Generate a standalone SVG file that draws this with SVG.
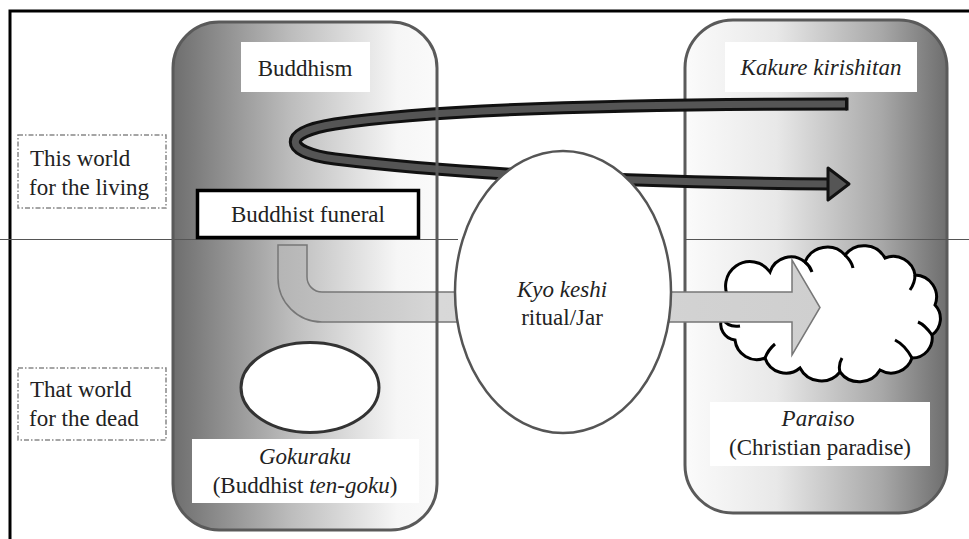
<svg xmlns="http://www.w3.org/2000/svg" width="969" height="539" viewBox="0 0 969 539">
<defs>
<linearGradient id="gL" x1="0" y1="0" x2="1" y2="0">
<stop offset="0" stop-color="#6e6e6e"/><stop offset="0.45" stop-color="#bdbdbd"/><stop offset="0.85" stop-color="#f6f6f6"/><stop offset="1" stop-color="#fafafa"/>
</linearGradient>
<linearGradient id="gR" x1="0" y1="0" x2="1" y2="0">
<stop offset="0" stop-color="#fbfbfb"/><stop offset="0.35" stop-color="#e8e8e8"/><stop offset="0.75" stop-color="#a8a8a8"/><stop offset="1" stop-color="#6e6e6e"/>
</linearGradient>
<linearGradient id="gA" x1="0" y1="0" x2="1" y2="0">
<stop offset="0" stop-color="#b5b5b5"/><stop offset="0.3" stop-color="#d8d8d8"/><stop offset="1" stop-color="#cfcfcf"/>
</linearGradient>
</defs>
<style>
.t{font-family:'Liberation Serif','Tinos','Noto Serif','FreeSerif','DejaVu Serif','Times New Roman',serif;font-size:23px;fill:#222}
.it{font-style:italic}
.lbl{fill:#fff;stroke:none}
.dash{fill:none;stroke:#888;stroke-width:1.5;stroke-dasharray:5 2 1.5 2}
.panel{stroke:#5a5a5a;stroke-width:3}
</style>
<rect width="969" height="539" fill="#fff"/>
<path d="M10 539 V11 H969" fill="none" stroke="#000" stroke-width="3"/>

<g id="left-panel">
<rect x="173" y="22" width="264" height="508" rx="46" fill="url(#gL)"/>
</g>
<g id="right-panel">
<rect x="685" y="20" width="262" height="493" rx="48" fill="url(#gR)" class="panel"/>
</g>

<g id="divider">
<line x1="0" y1="239.500" x2="458" y2="239.500" stroke="#555" stroke-width="1.2"/>
<line x1="685" y1="239.500" x2="969" y2="239.500" stroke="#555" stroke-width="1.2"/>
</g>

<g id="this-world" class="t">
<rect x="18" y="135" width="148" height="73" class="dash"/>
<text x="30" y="166">This world</text>
<text x="29" y="195">for the living</text>
</g>
<g id="that-world" class="t">
<rect x="18" y="368" width="148" height="72" class="dash"/>
<text x="30" y="397">That world</text>
<text x="29" y="426">for the dead</text>
</g>

<g id="cloud">
<path d="M730 300 A22 22 0 0 1 770 272 A22 22 0 0 1 805 262 A24 24 0 0 1 845 255 A24 24 0 0 1 885 258 A22 22 0 0 1 915 275 A22 22 0 0 1 935 305 A20 20 0 0 1 932 335 A20 20 0 0 1 912 358 A22 22 0 0 1 880 370 A24 24 0 0 1 840 372 A24 24 0 0 1 800 368 A22 22 0 0 1 765 358 A22 22 0 0 1 735 340 A16 16 0 0 1 722 318 A14 14 0 0 1 730 300 Z" fill="#fff" stroke="#000" stroke-width="3"/>
<path d="M722 318 Q728 328 740 326 M765 358 Q768 350 775 344 M840 372 Q838 365 842 358 M912 358 Q905 345 895 340 M932 335 Q925 325 918 322 M915 275 Q915 283 910 290 M845 255 Q852 262 853 268 M805 262 Q810 266 812 272" fill="none" stroke="#000" stroke-width="3"/>
</g>

<g id="connectors">
<path d="M278 245 V278 A44 44 0 0 0 322 322 H792 V355 L820 307.500 L792 260 V292 H322 A15 15 0 0 1 307 277 V245 Z" fill="url(#gA)" stroke="#777" stroke-width="1.5"/>
<path d="M847 104 C650 104 440 108 335 124 C282 132 282 152 335 159 C450 173 600 182 830 184" fill="none" stroke="#111" stroke-width="13"/>
<path d="M845 104 C650 104 440 108 335 124 C282 132 282 152 335 159 C450 173 600 182 832 184" fill="none" stroke="#555" stroke-width="7"/>
<path d="M828 168 L849 184 L828 200 Z" fill="#555" stroke="#111" stroke-width="3" stroke-linejoin="round"/>
<line x1="847" y1="97.500" x2="847" y2="110.500" stroke="#111" stroke-width="3"/>
</g>

<g id="left-panel-outline">
<rect x="173" y="22" width="264" height="508" rx="46" fill="none" class="panel"/>
</g>

<g id="buddhism" class="t">
<rect x="241" y="42" width="129" height="50" class="lbl"/>
<text x="305" y="76" text-anchor="middle">Buddhism</text>
</g>
<g id="funeral" class="t">
<rect x="197.500" y="190.500" width="221" height="47" fill="#fff" stroke="#000" stroke-width="3.500"/>
<text x="308" y="222" text-anchor="middle">Buddhist funeral</text>
</g>
<g id="gokuraku" class="t">
<ellipse cx="310" cy="387.500" rx="69" ry="45" fill="#fff" stroke="#333" stroke-width="3"/>
<rect x="192" y="439" width="227" height="64" class="lbl"/>
<text x="305" y="464" text-anchor="middle" class="it">Gokuraku</text>
<text x="305" y="493" text-anchor="middle">(Buddhist <tspan class="it">ten-goku</tspan>)</text>
</g>
<g id="kyo-keshi" class="t">
<ellipse cx="563" cy="292" rx="108" ry="141" fill="#fff" stroke="#555" stroke-width="2.500"/>
<text x="562" y="297" text-anchor="middle" class="it">Kyo keshi</text>
<text x="562" y="325" text-anchor="middle">ritual/Jar</text>
</g>
<g id="kakure" class="t">
<rect x="725" y="42" width="192" height="50" class="lbl"/>
<text x="821" y="75" text-anchor="middle" class="it">Kakure kirishitan</text>
</g>
<g id="paraiso" class="t">
<rect x="710" y="402" width="220" height="64" class="lbl"/>
<text x="818" y="426" text-anchor="middle" class="it">Paraiso</text>
<text x="820" y="455" text-anchor="middle">(Christian paradise)</text>
</g>
</svg>
